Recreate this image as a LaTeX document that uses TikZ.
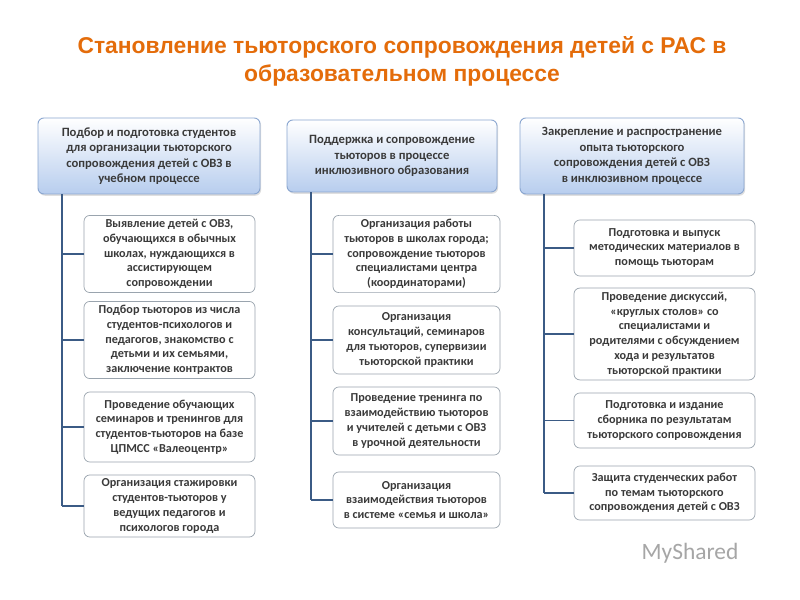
\documentclass[tikz,border=0pt]{standalone}
\usepackage{fontspec}
\setmainfont{Carlito}
\newfontfamily\titlefont{Liberation Sans}
\usetikzlibrary{shadows}
\definecolor{ttl}{HTML}{E46C0A}
\definecolor{txt}{HTML}{3A3A3A}
\definecolor{hb}{HTML}{8AA6D0}
\definecolor{hf}{HTML}{B7CDEE}
\definecolor{ln}{HTML}{3B5B85}
\definecolor{cb}{HTML}{9AA4AE}
\tikzset{
 hdr/.style={draw=hb,line width=0.8pt,rounded corners=5pt,top color=white,bottom color=hf,
   drop shadow={opacity=0.25,shadow xshift=1pt,shadow yshift=-1.5pt},text=txt,font=\bfseries\fontsize{10.8}{13.2}\selectfont,align=center},
 kid/.style={draw=cb,line width=0.6pt,rounded corners=5pt,fill=white,text=txt,font=\bfseries\fontsize{10.4}{12.6}\selectfont,align=center},
 conn/.style={ln,line width=1.6pt}
}
\newcommand\bx[6]{\node[#1,minimum width=#4*0.03cm,minimum height=#5*0.03cm,inner xsep=1pt] (#2) at (#3) {#6};}
\begin{document}
\begin{tikzpicture}[x=0.03cm,y=-0.03cm]
\useasboundingbox[fill=white] (0,0) rectangle (800,600);
\node[text=ttl,font=\titlefont\bfseries\fontsize{19.5}{24}\selectfont,align=center] (title) at (402,61) {Становление тьюторского сопровождения детей с РАС в\\образовательном процессе};
% headers
\bx{hdr}{h1}{149,156}{222}{76}{Подбор и подготовка студентов\\для организации тьюторского\\сопровождения детей с ОВЗ в\\учебном процессе}
\bx{hdr}{h2}{392,156}{210}{72}{Поддержка и сопровождение\\тьюторов в процессе\\инклюзивного образования}
\bx{hdr}{h3}{632,156}{224}{76}{Закрепление и распространение\\опыта тьюторского\\сопровождения детей с ОВЗ\\в инклюзивном процессе}
% col1
\bx{kid}{a1}{169.5,254}{171}{72}{Выявление детей с ОВЗ,\\обучающихся в обычных\\школах, нуждающихся в\\ассистирующем\\сопровождении}
\bx{kid}{a2}{169.5,340}{171}{72}{Подбор тьюторов из числа\\студентов-психологов и\\педагогов, знакомство с\\детьми и их семьями,\\заключение контрактов}
\bx{kid}{a3}{169.5,427}{171}{70}{Проведение обучающих\\семинаров и тренингов для\\студентов-тьюторов на базе\\ЦПМСС «Валеоцентр»}
\bx{kid}{a4}{169.5,506}{171}{58}{Организация стажировки\\студентов-тьюторов у\\ведущих педагогов и\\психологов города}
% col2
\bx{kid}{b1}{416.5,254}{167}{72}{Организация работы\\тьюторов в школах города;\\сопровождение тьюторов\\специалистами центра\\(координаторами)}
\bx{kid}{b2}{416.5,340}{167}{68}{Организация\\консультаций, семинаров\\для тьюторов, супервизии\\тьюторской практики}
\bx{kid}{b3}{416.5,421}{167}{68}{Проведение тренинга по\\взаимодействию тьюторов\\и учителей с детьми с ОВЗ\\в урочной деятельности}
\bx{kid}{b4}{416.5,500}{167}{56}{Организация\\взаимодействия тьюторов\\в системе «семья и школа»}
% col3
\bx{kid}{c1}{664.5,248}{181}{56}{Подготовка и выпуск\\методических материалов в\\помощь тьюторам}
\bx{kid}{c2}{664.5,334}{181}{88}{Проведение дискуссий,\\«круглых столов» со\\специалистами и\\родителями с обсуждением\\хода и результатов\\тьюторской практики}
\bx{kid}{c3}{664.5,420.5}{181}{55}{Подготовка и издание\\сборника по результатам\\тьюторского сопровождения}
\bx{kid}{c4}{664.5,493}{181}{54}{Защита студенческих работ\\по темам тьюторского\\сопровождения детей с ОВЗ}
% connectors
\coordinate (e1) at (62,506);
\coordinate (e2) at (311,500);
\coordinate (e3) at (544,493);
\draw[conn] (h1.south -| e1) -- (e1);
\draw[conn] (h2.south -| e2) -- (e2);
\draw[conn] (h3.south -| e3) -- (e3);
\foreach \n in {a1,a2,a3,a4} \draw[conn] (\n.west -| e1) -- (\n.west);
\foreach \n in {b1,b2,b3,b4} \draw[conn] (\n.west -| e2) -- (\n.west);
\foreach \n in {c1,c2,c3,c4} \draw[conn] (\n.west -| e3) -- (\n.west);
\node[text=gray!70,font=\fontsize{20}{24}\selectfont] (wm) at (690,553) {MyShared};
\end{tikzpicture}
\end{document}
